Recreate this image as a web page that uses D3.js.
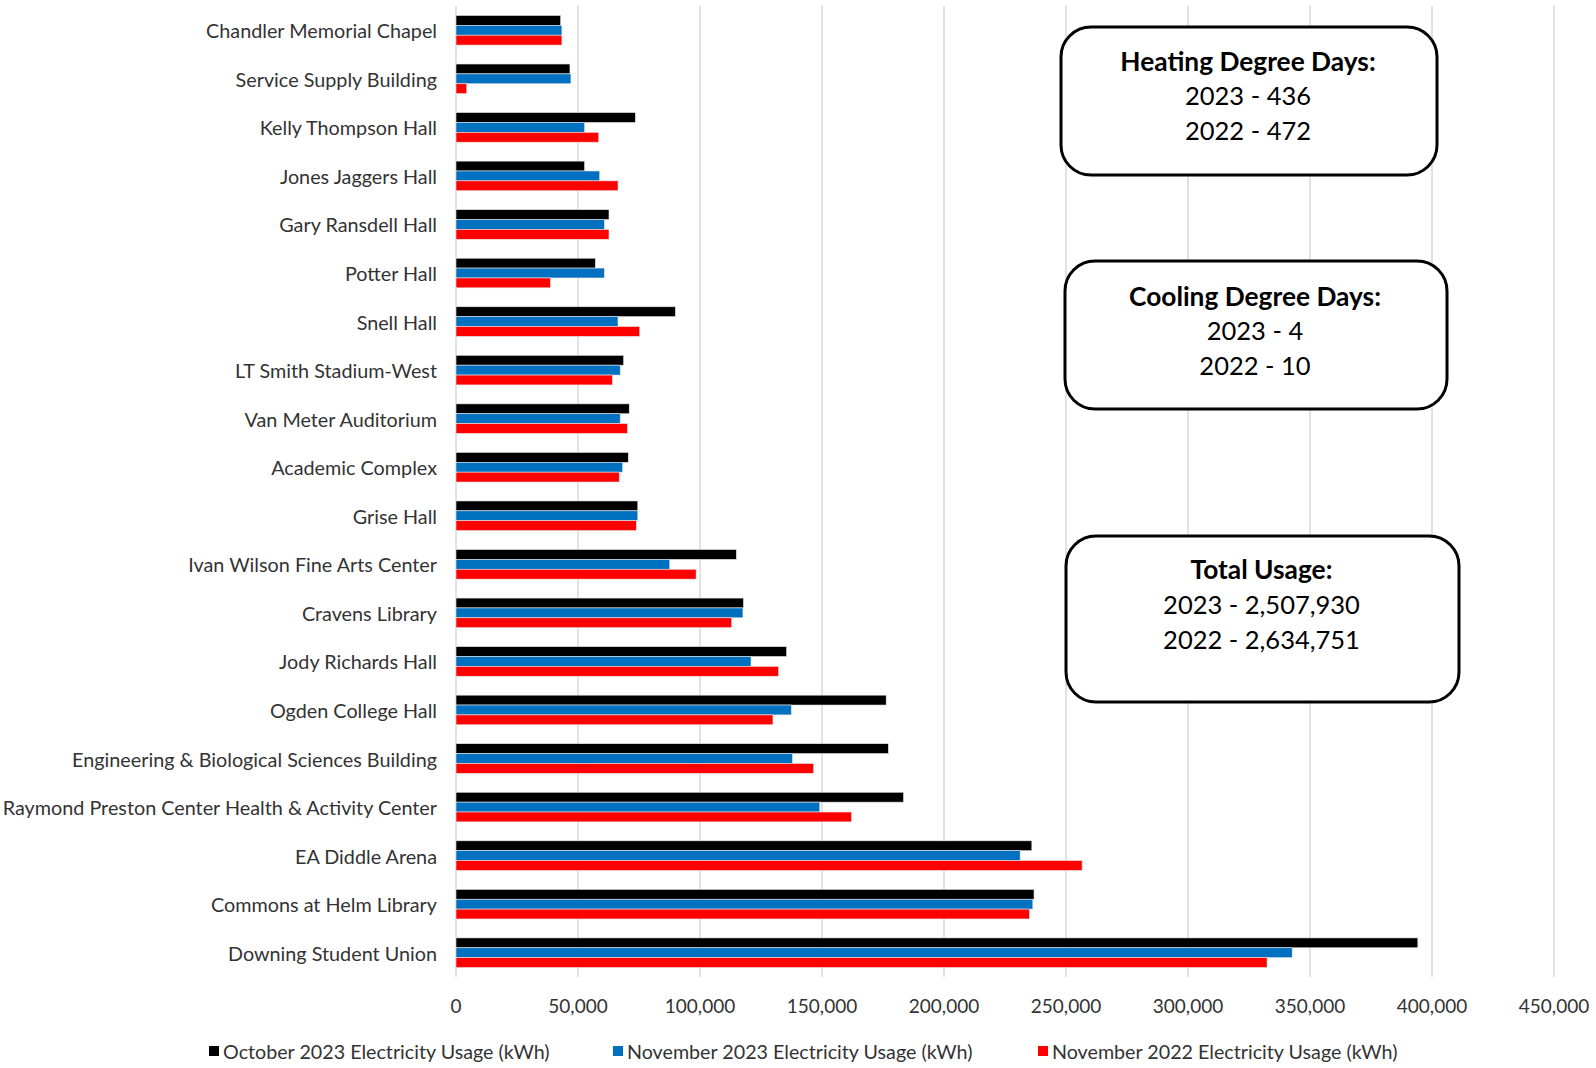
<!DOCTYPE html>
<html>
<head>
<meta charset="utf-8">
<script src="https://cdn.jsdelivr.net/npm/d3@7"></script>
<style>
  body { margin: 0; background: #fff; }
  svg text { font-family: Lato, "Open Sans", sans-serif; fill: #333; }
</style>
</head>
<body>
<div id="chart"></div>
<script>
// buildings, top to bottom
let buildings = [
    'Chandler Memorial Chapel', 'Service Supply Building', 'Kelly Thompson Hall',
    'Jones Jaggers Hall', 'Gary Ransdell Hall', 'Potter Hall', 'Snell Hall',
    'LT Smith Stadium-West', 'Van Meter Auditorium', 'Academic Complex', 'Grise Hall',
    'Ivan Wilson Fine Arts Center', 'Cravens Library', 'Jody Richards Hall',
    'Ogden College Hall', 'Engineering & Biological Sciences Building',
    'Raymond Preston Center Health & Activity Center', 'EA Diddle Arena',
    'Commons at Helm Library', 'Downing Student Union'
];

let oct2023 = [42900, 46700, 73500, 52700, 62700, 57100, 89900, 68700, 71000, 70600,
    74500, 114900, 117800, 135500, 176300, 177200, 183400, 236000, 236900, 394200];
let nov2023 = [43400, 47100, 52700, 58900, 60800, 60800, 66400, 67300, 67300, 68300,
    74500, 87600, 117600, 120900, 137400, 137900, 149100, 231200, 236400, 342700];
let nov2022 = [43400, 4400, 58500, 66400, 62700, 38700, 75300, 64100, 70200, 66900,
    73900, 98400, 113000, 132200, 129900, 146600, 162100, 256600, 235000, 332400];

let seriesNames = [
    'October 2023 Electricity Usage (kWh)',
    'November 2023 Electricity Usage (kWh)',
    'November 2022 Electricity Usage (kWh)'
];
let seriesColors = ['#000000', '#0070c0', '#ff0000'];
let xTicks = [0, 50000, 100000, 150000, 200000, 250000, 300000, 350000, 400000, 450000];

let boxTitles = ['Heating Degree Days:', 'Cooling Degree Days:', 'Total Usage:'];
let boxLines = [
    ['2023 - 436', '2022 - 472'],
    ['2023 - 4', '2022 - 10'],
    ['2023 - 2,507,930', '2022 - 2,634,751']
];

let W = 1596, H = 1068;
let svg = d3.select('#chart').append('svg')
    .attr('width', W)
    .attr('height', H);

let x = d3.scaleLinear().domain([0, 450000]).range([456, 1554]);
let y = d3.scaleBand().domain(buildings).range([6, 977])
    .paddingInner(0.39).paddingOuter(0.195);
let ySub = d3.scaleBand().domain(d3.range(3)).range([0, y.bandwidth()]);

// gridlines
svg.append('g')
    .selectAll('line')
    .data(xTicks)
    .join('line')
    .attr('x1', d => x(d)).attr('x2', d => x(d))
    .attr('y1', 6).attr('y2', 977)
    .attr('stroke', '#d9d9d9')
    .attr('stroke-width', 1.5);

// bars
let rows = buildings.map((b, i) => ({ name: b, vals: [oct2023[i], nov2023[i], nov2022[i]] }));
svg.append('g')
    .selectAll('g')
    .data(rows)
    .join('g')
    .attr('transform', d => `translate(0, ${y(d.name)})`)
    .selectAll('rect')
    .data(d => d.vals)
    .join('rect')
    .attr('x', x(0))
    .attr('y', (d, i) => ySub(i))
    .attr('width', d => x(d) - x(0))
    .attr('height', ySub.bandwidth())
    .attr('fill', (d, i) => seriesColors[i])
    .attr('stroke', '#e6e6e6')
    .attr('stroke-width', 0.6);

// category labels
svg.append('g')
    .selectAll('text')
    .data(buildings)
    .join('text')
    .attr('x', 437)
    .attr('y', d => y(d) + y.bandwidth() / 2)
    .attr('text-anchor', 'end')
    .attr('dominant-baseline', 'central')
    .style('font-size', '19.8px')
    .text(d => d);

// x axis tick labels
let fmt = d3.format(',');
svg.append('g')
    .selectAll('text')
    .data(xTicks)
    .join('text')
    .attr('x', d => x(d))
    .attr('y', 1005)
    .attr('text-anchor', 'middle')
    .attr('dominant-baseline', 'central')
    .style('font-size', '19px')
    .text(d => fmt(d));

// legend
let legendX = [209, 613, 1038];
let legend = svg.append('g')
    .selectAll('g')
    .data(seriesNames)
    .join('g')
    .attr('transform', (d, i) => `translate(${legendX[i]}, 1051)`);
legend.append('rect')
    .attr('x', 0).attr('y', -5)
    .attr('width', 10).attr('height', 10)
    .attr('fill', (d, i) => seriesColors[i]);
legend.append('text')
    .attr('x', 14)
    .attr('dominant-baseline', 'central')
    .style('font-size', '19.7px')
    .text(d => d);

// info boxes
let boxes = [
    { x: 1061, y: 27, w: 376, h: 148, ty: [61, 95, 130] },
    { x: 1065, y: 261, w: 382, h: 148, ty: [296, 330, 365] },
    { x: 1066, y: 536, w: 393, h: 166, ty: [569, 604, 639] }
];
boxes.forEach((b, i) => {
    let g = svg.append('g');
    g.append('rect')
        .attr('x', b.x).attr('y', b.y)
        .attr('width', b.w).attr('height', b.h)
        .attr('rx', 30).attr('ry', 30)
        .attr('fill', '#fff')
        .attr('stroke', '#000')
        .attr('stroke-width', 3);
    let cx = b.x + b.w / 2 - 1;
    g.append('text')
        .attr('x', cx).attr('y', b.ty[0])
        .attr('text-anchor', 'middle')
        .attr('dominant-baseline', 'central')
        .style('font-size', '26.3px')
        .style('font-weight', 'bold')
        .style('fill', '#000')
        .text(boxTitles[i]);
    boxLines[i].forEach((t, j) => {
        g.append('text')
            .attr('x', cx).attr('y', b.ty[j + 1])
            .attr('text-anchor', 'middle')
            .attr('dominant-baseline', 'central')
            .style('font-size', '25.5px')
            .style('fill', '#000')
            .text(t);
    });
});
</script>
</body>
</html>
